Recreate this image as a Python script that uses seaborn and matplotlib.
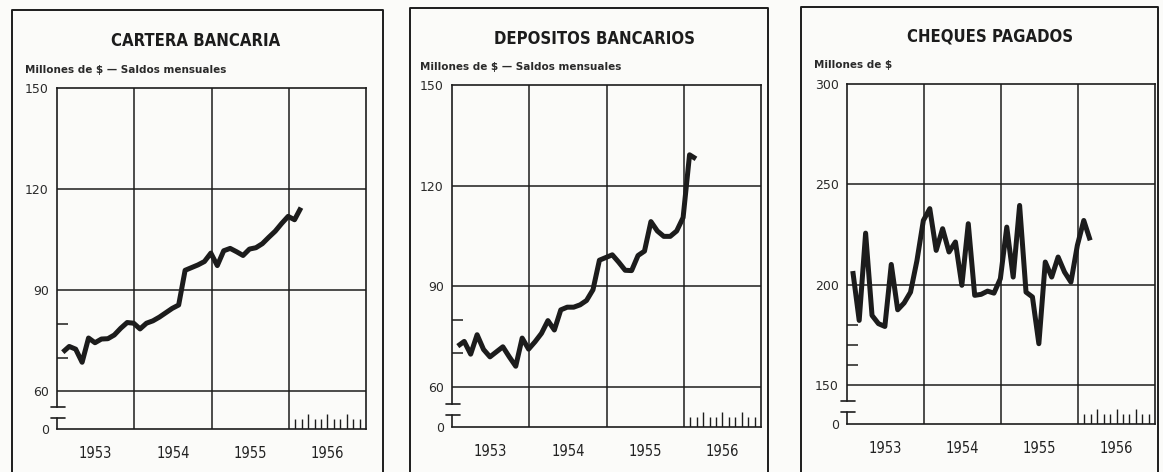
import numpy as np
import matplotlib
matplotlib.use("Agg")
import matplotlib.pyplot as plt
import seaborn as sns
from matplotlib import font_manager
from matplotlib.lines import Line2D

# ── data: monthly values, Jan 1953 .. Feb 1956 ─────────────────
months = np.arange(38)
cartera = [71.6, 73.3, 72.5, 68.6, 75.8, 74.4, 75.5, 75.6, 76.7, 78.7,
           80.4, 80.2, 78.5, 80.2, 80.9, 82.0, 83.3, 84.6, 85.6, 95.9,
           96.7, 97.5, 98.5, 101.0, 97.3, 101.7, 102.4, 101.4, 100.3, 102.2,
           102.6, 103.8, 105.7, 107.5, 109.8, 111.9, 110.9, 114.5]
depositos = [72.2, 73.6, 69.8, 75.6, 71.2, 69.0, 70.5, 72.0, 69.0, 66.2,
             74.6, 71.3, 73.5, 76.0, 79.8, 77.0, 83.0, 83.8, 83.8, 84.5,
             85.8, 89.0, 97.8, 98.6, 99.4, 97.2, 94.8, 94.7, 99.2, 100.5,
             109.3, 106.5, 104.9, 104.9, 106.5, 110.5, 129.2, 128.0]
cheques = [206.8, 182.2, 225.7, 184.7, 180.6, 179.2, 210.1, 187.5, 190.9, 196.3,
           212.0, 232.0, 237.9, 217.1, 227.9, 216.3, 221.3, 199.7, 230.4, 194.7,
           195.2, 196.8, 195.8, 203.0, 228.7, 203.8, 239.5, 196.3, 193.9, 170.6,
           211.3, 203.8, 213.8, 206.3, 201.3, 219.6, 232.0, 222.1]

titles = ["CARTERA BANCARIA", "DEPOSITOS BANCARIOS", "CHEQUES PAGADOS"]
subtitles = ["Millones de $ \u2014 Saldos mensuales",
             "Millones de $ \u2014 Saldos mensuales",
             "Millones de $"]
year_labels = ["1953", "1954", "1955", "1956"]
yticks_saldos = [60, 90, 120, 150]
yticks_cheques = [150, 200, 250, 300]

sns.set_style("white")
plt.rcParams["font.family"] = ["DejaVu Sans"]

# look for a condensed face among the installed fonts
cond = [f for f in font_manager.fontManager.ttflist
        if "narrow" in f.name.lower() or "condensed" in f.name.lower()
        or str(f.stretch) in ("condensed", "semi-condensed", "extra-condensed", "ultra-condensed")]
if cond:
    NARROW = dict(family=cond[0].name, stretch=cond[0].stretch)
else:
    NARROW = dict(family="DejaVu Sans", stretch="normal")
have_cond = bool(cond)

INK = "#1c1c1c"
W, H = 1163, 472
fig = plt.figure(figsize=(W / 100, H / 100), dpi=100)
fig.patch.set_facecolor("#fbfbf9")

def fx(px): return px / W
def fy(py): return 1 - py / H

# layout per panel (pixels): plot box, frame, title/subtitle anchors, axis break
panels = [
    dict(y=cartera, box=(57, 88, 366, 429), zero=48.8, ticks=yticks_saldos, inner=[70, 80],
         brk=(55.3, 52.0), frame=(12, 383, 10), tpos=(196, 41), spos=(25, 70)),
    dict(y=depositos, box=(452, 85, 761, 427), zero=48.1, ticks=yticks_saldos, inner=[70, 80],
         brk=(55.1, 51.6), frame=(410, 768, 8), tpos=(595, 39), spos=(420, 67)),
    dict(y=cheques, box=(847, 84, 1155, 424), zero=130.6, ticks=yticks_cheques, inner=[160, 170, 180],
         brk=(142.0, 136.5), frame=(801, 1158, 7), tpos=(990, 36), spos=(814, 65)),
]

x = 1953 + (months + 0.9) / 12
title_size = 12 if have_cond else 10.5
year_size = 10.5 if have_cond else 9

for p, title, sub in zip(panels, titles, subtitles):
    l, t, r, b = p["box"]
    ax = fig.add_axes([fx(l), fy(b), (r - l) / W, (b - t) / H])
    ax.set_facecolor("none")

    sns.lineplot(x=x, y=p["y"], ax=ax, color=INK, linewidth=3.6,
                 solid_joinstyle="round", solid_capstyle="butt", zorder=5)

    ax.set_xlim(1953, 1957)
    ax.set_ylim(p["zero"], p["ticks"][-1])

    # grid
    for yr in [1954, 1955, 1956]:
        ax.axvline(yr, color=INK, lw=1.1, zorder=1)
    for v in p["ticks"][:-1]:
        ax.axhline(v, color=INK, lw=1.1, zorder=1)

    # y labels, with the "0" placed at the broken bottom
    ax.set_yticks([p["zero"]] + p["ticks"])
    ax.set_yticklabels(["0"] + [str(v) for v in p["ticks"]], fontsize=9, color="#2a2a2a")
    ax.set_yticks(p["inner"], minor=True)
    ax.tick_params(axis="y", which="major", length=0, pad=6, left=True)
    ax.tick_params(axis="y", which="minor", direction="in", length=8, width=1.1, color=INK, left=True)

    # year labels centred in each year
    ax.set_xticks([1953.5, 1954.5, 1955.5, 1956.5])
    ax.set_xticklabels(year_labels, fontsize=year_size, color="#222222", **NARROW)
    ax.tick_params(axis="x", length=0, pad=12)
    ax.set_xlabel(""); ax.set_ylabel("")

    # monthly marks along the bottom of 1956
    mk = 1956 + np.arange(1, 12) / 12
    hts = [0.043 if k % 3 == 0 else 0.03 for k in range(1, 12)]
    ax.vlines(mk, 0, hts, transform=ax.get_xaxis_transform(), color=INK, lw=1.0)

    for s in ax.spines.values():
        s.set_color(INK); s.set_linewidth(1.2); s.set_visible(True)
    hi, lo = p["brk"]
    ax.spines["left"].set_bounds(hi, p["ticks"][-1])
    yt = ax.get_yaxis_transform()
    ax.plot([0, 0], [p["zero"], lo], transform=yt, color=INK, lw=1.2, clip_on=False)
    for v in (hi, lo):
        ax.plot([-0.02, 0.025], [v, v], transform=yt, color=INK, lw=1.2, clip_on=False)

    fig.text(fx(p["tpos"][0]), fy(p["tpos"][1]), title, ha="center", va="center",
             fontsize=title_size, fontweight="bold", color=INK, **NARROW)
    fig.text(fx(p["spos"][0]), fy(p["spos"][1]), sub, ha="left", va="center",
             fontsize=7.5, fontweight="bold", color="#2a2a2a")

    fl, fr, ft = p["frame"]
    fig.add_artist(Line2D([fx(fl), fx(fl), fx(fr), fx(fr)], [-0.05, fy(ft), fy(ft), -0.05],
                          color=INK, lw=1.4))

fig.savefig("out.png", dpi=100, facecolor=fig.get_facecolor())
